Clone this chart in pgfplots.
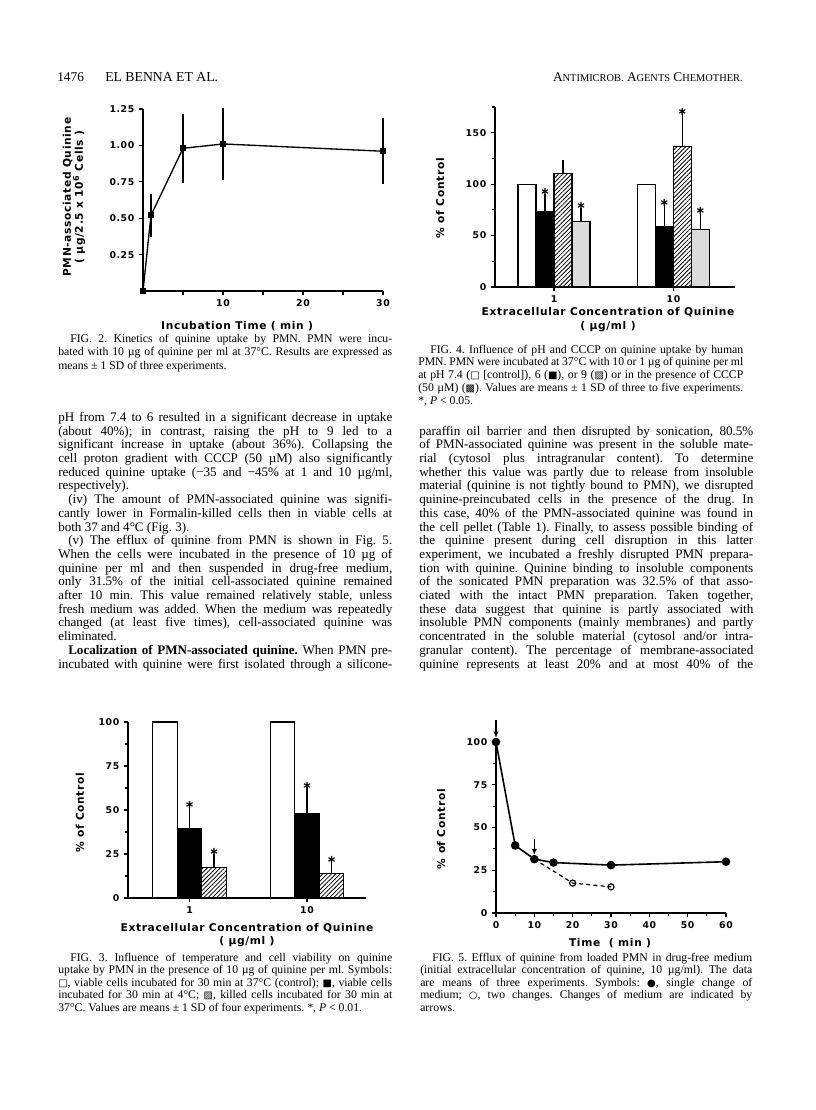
\documentclass[border=0pt]{standalone}
\usepackage{fontspec}
\setmainfont{Liberation Serif}
\newfontfamily\cf{DejaVu Sans}[LetterSpace=6]
\newfontfamily\sym{DejaVu Sans}[Scale=0.85]
\usepackage{pgfplots}
\pgfplotsset{compat=1.18}
\usetikzlibrary{patterns.meta,arrows.meta,plotmarks}
\frenchspacing
\newcommand\tickfont{\cf\bfseries\fontsize{7}{8}\selectfont}
\newcommand\labfont{\cf\bfseries\fontsize{8}{10.5}\selectfont}
\newcommand\bodyfont{\fontsize{9.8}{11}\selectfont\frenchspacing}
\newcommand\capfont{\fontsize{8.8}{10}\selectfont\frenchspacing}
% justified line: x, y (px), width (pt), text
\newcommand\J[4]{\node[anchor=base west,inner sep=0pt] at (#1,#2) {\makebox[#3][s]{#4}};}
\newcommand\LL[3]{\node[anchor=base west,inner sep=0pt] at (#1,#2) {#3};}
\pgfplotsset{
  pagechart/.style={anchor=south west, scale only axis, axis lines*=left,
    axis line style={line width=0.9pt,-}, tick align=outside,
    major tick length=3pt, minor tick length=2pt,
    tick style={line width=0.9pt,black},
    ticklabel style={font=\tickfont},
    /pgf/number format/assume math mode=true,
    xlabel style={font=\labfont, align=center, anchor=center},
    ylabel style={font=\labfont, align=center, anchor=center},
    clip=false},
  bar/.style={ybar, bar width=#1, bar shift=0pt, draw=black, line width=0.9pt},
  upbars/.style={error bars/.cd, y dir=plus, y explicit,
    error bar style={line width=0.9pt,black},
    error mark options={black, mark size=3.5pt, line width=0.9pt}},
  star/.style={only marks, mark=text, text mark={\sym\bfseries\fontsize{10}{10}\selectfont ∗}}
}
\begin{document}
\begin{tikzpicture}
\path[use as bounding box, fill=white] (0,0) rectangle (612pt,-832.5pt);

% ---------------- FIG. 2 ----------------
\begin{axis}[pagechart, at={(107.25pt,-218.25pt)}, width=180pt, height=136.5pt,
  xmin=0, xmax=30, ymin=0, ymax=1.25,
  xtick={5,10,15,20,25,30}, xticklabels={,10,,20,,30},
  ytick={0.25,0.5,0.75,1,1.25}, yticklabels={0.25,0.50,0.75,1.00,1.25},
  xlabel={Incubation Time ( min )},
  ylabel={PMN-associated Quinine\\[-1.5pt]( µg/2.5 x 10\textsuperscript{6} Cells )},
  xlabel style={at={(axis description cs:0.392,-0.192)}},
  ylabel style={at={(axis description cs:-0.2875,0.516)}}]
\addplot[black, line width=1pt, mark=square*, mark size=1.8pt,
  error bars/.cd, y dir=both, y explicit,
  error bar style={line width=0.9pt,black},
  error mark options={black, mark size=3pt, line width=0.9pt}]
  coordinates {(0,0) (1,0.52) +- (0,0.12) (5,0.98) +- (0,0.21)
               (10,1.01) +- (0,0.22) (30,0.96) +- (0,0.20)};
\end{axis}

% ---------------- FIG. 4 ----------------
\begin{axis}[pagechart, at={(371.25pt,-215.25pt)}, width=180pt, height=135pt,
  xmin=0.506, xmax=2.515, ymin=0, ymax=175,
  xtick={1,2}, xticklabels={1,10},
  ytick={0,50,100,150}, yticklabels={0,50,100,150},
  minor ytick={25,75,125,175},
  xlabel={Extracellular Concentration of Quinine\\( µg/ml )},
  ylabel={\% of Control},
  xlabel style={at={(axis description cs:0.471,-0.183)}},
  ylabel style={at={(axis description cs:-0.229,0.494)}}]
\addplot[bar=13.5pt, fill=white] coordinates {(0.7741,100) (1.7741,100)};
\addplot[bar=13.5pt, fill=black, upbars] coordinates {(0.9247,73.7) +- (0,12.3) (1.9247,58.4) +- (0,17.2)};
\addplot[bar=13.5pt, fill=white, postaction={pattern={Lines[angle=45,distance=2.3pt,line width=0.6pt]}}, upbars]
  coordinates {(1.0753,110) +- (0,9) (2.0753,136.4) +- (0,27.6)};
\addplot[bar=13.5pt, fill=black!14, upbars] coordinates {(1.2259,64) +- (0,8.4) (2.2259,55.8) +- (0,12.4)};
\addplot[star] coordinates {(0.9247,92) (1.2259,78.4) (1.9247,81.6) (2.0753,170) (2.2259,74.2)};
\end{axis}

% ---------------- FIG. 3 ----------------
\begin{axis}[pagechart, at={(96pt,-673.5pt)}, width=178.5pt, height=132pt,
  xmin=0.4766, xmax=2.502, ymin=0, ymax=100,
  xtick={1,2}, xticklabels={1,10},
  ytick={0,25,50,75,100}, yticklabels={0,25,50,75,100},
  minor ytick={12.5,37.5,62.5,87.5},
  xlabel={Extracellular Concentration of Quinine\\[-0.8pt]( µg/ml )},
  ylabel={\% of Control},
  xlabel style={at={(axis description cs:0.5,-0.213)}},
  ylabel style={at={(axis description cs:-0.2017,0.483)}}]
\addplot[bar=18.4pt, fill=white] coordinates {(0.7915,100) (1.7915,100)};
\addplot[bar=18.4pt, fill=black, upbars] coordinates {(1,39.2) +- (0,10) (2,48.1) +- (0,12.1)};
\addplot[bar=18.4pt, fill=white, postaction={pattern={Lines[angle=45,distance=2.3pt,line width=0.6pt]}}, upbars]
  coordinates {(1.2085,17.2) +- (0,5.1) (2.2085,14.0) +- (0,4.0)};
\addplot[star] coordinates {(1,52.8) (1.2085,25.9) (2,63.8) (2.2085,21.6)};
\end{axis}

% ---------------- FIG. 5 ----------------
\begin{axis}[pagechart, at={(372pt,-684.75pt)}, width=172.5pt, height=128.25pt,
  xmin=0, xmax=60, ymin=0, ymax=100,
  xtick={0,10,20,30,40,50,60}, xticklabels={0,10,20,30,40,50,60},
  minor xtick={5,15,25,35,45,55},
  ytick={0,25,50,75,100}, yticklabels={0,25,50,75,100},
  minor ytick={12.5,37.5,62.5,87.5},
  xlabel={Time\ \ ( min )},
  ylabel={\% of Control},
  xlabel style={at={(axis description cs:0.496,-0.175)}},
  ylabel style={at={(axis description cs:-0.239,0.491)}}]
\addplot[black, line width=0.9pt, dash pattern=on 3pt off 2.5pt, mark=o, mark size=2.3pt,
  mark options={solid, fill=white, line width=0.9pt}]
  coordinates {(10,31.5) (20,17.5) (30,15.3)};
\addplot[black, line width=1.2pt, mark=*, mark size=2.6pt]
  coordinates {(0,100) (5,39.5) (10,31.5) (15,29.5) (30,28) (60,30)};
\draw[-{Latex[length=4.5pt,width=4pt]}, line width=1.1pt] (axis cs:0,113) -- (axis cs:0,102.5);
\draw[-{Latex[length=4.5pt,width=4pt]}, line width=1.1pt] (axis cs:10,43.5) -- (axis cs:10,34);
\end{axis}

\begin{scope}[x=0.75pt,y=-0.75pt]
% header
\node[anchor=base west,inner sep=0pt] at (57,81) {\fontsize{10}{12}\selectfont 1476};
\node[anchor=base west,inner sep=0pt] at (105,81) {\fontsize{10.3}{12}\selectfont EL\ BENNA\ ET\ AL.};
\node[anchor=base east,inner sep=0pt] at (743,81) {\fontsize{10}{12}\selectfont A{\fontsize{7.8}{9}\selectfont NTIMICROB.} A{\fontsize{7.8}{9}\selectfont GENTS} C{\fontsize{7.8}{9}\selectfont HEMOTHER.}};

% FIG 2 caption
\begin{scope}[every node/.append style={font=\capfont}]
\J{70}{342}{241.5pt}{FIG. 2. Kinetics of quinine uptake by PMN. PMN were incu-}
\J{58}{355.5}{250.5pt}{bated with 10 µg of quinine per ml at 37°C. Results are expressed as}
\LL{58}{369}{means ± 1 SD of three experiments.}
% FIG 4 caption
\J{430}{353}{234.75pt}{FIG. 4. Influence of pH and CCCP on quinine uptake by human}
\J{418}{365.8}{243.75pt}{PMN. PMN were incubated at 37°C with 10 or 1 µg of quinine per ml}
\J{418}{378.6}{243.75pt}{at pH 7.4 ({\sym □} [control]), 6 ({\sym ■}), or 9 ({\sym ▨}) or in the presence of CCCP}
\J{418}{391.4}{243.75pt}{(50 µM) ({\sym ▩}). Values are means ± 1 SD of three to five experiments.}
\LL{418}{404.2}{*, \textit{P} < 0.05.}
% FIG 3 caption
\J{70}{961}{241.5pt}{FIG. 3. Influence of temperature and cell viability on quinine}
\J{58}{973.5}{250.5pt}{uptake by PMN in the presence of 10 µg of quinine per ml. Symbols:}
\J{58}{986}{250.5pt}{{\sym □}, viable cells incubated for 30 min at 37°C (control); {\sym ■}, viable cells}
\J{58}{998.5}{250.5pt}{incubated for 30 min at 4°C; {\sym ▨}, killed cells incubated for 30 min at}
\LL{58}{1011}{37°C. Values are means ± 1 SD of four experiments. *, \textit{P} < 0.01.}
% FIG 5 caption
\J{432}{961}{240pt}{FIG. 5. Efflux of quinine from loaded PMN in drug-free medium}
\J{420}{973.5}{249pt}{(initial extracellular concentration of quinine, 10 µg/ml). The data}
\J{420}{986}{249pt}{are means of three experiments. Symbols: {\sym ●}, single change of}
\J{420}{998.5}{249pt}{medium; {\sym ○}, two changes. Changes of medium are indicated by}
\LL{420}{1011}{arrows.}
\end{scope}

% left column body text
\begin{scope}[every node/.append style={font=\bodyfont}]
\J{58}{421.4}{250.5pt}{pH from 7.4 to 6 resulted in a significant decrease in uptake}
\J{58}{435.1}{250.5pt}{(about 40\%); in contrast, raising the pH to 9 led to a}
\J{58}{448.8}{250.5pt}{significant increase in uptake (about 36\%). Collapsing the}
\J{58}{462.5}{250.5pt}{cell proton gradient with CCCP (50 µM) also significantly}
\J{58}{476.2}{250.5pt}{reduced quinine uptake (−35 and −45\% at 1 and 10 µg/ml,}
\LL{58}{489.9}{respectively).}
\J{68}{503.6}{243pt}{(iv) The amount of PMN-associated quinine was signifi-}
\J{58}{517.3}{250.5pt}{cantly lower in Formalin-killed cells then in viable cells at}
\LL{58}{531}{both 37 and 4°C (Fig. 3).}
\J{68}{544.7}{243pt}{(v) The efflux of quinine from PMN is shown in Fig. 5.}
\J{58}{558.4}{250.5pt}{When the cells were incubated in the presence of 10 µg of}
\J{58}{572.1}{250.5pt}{quinine per ml and then suspended in drug-free medium,}
\J{58}{585.8}{250.5pt}{only 31.5\% of the initial cell-associated quinine remained}
\J{58}{599.5}{250.5pt}{after 10 min. This value remained relatively stable, unless}
\J{58}{613.2}{250.5pt}{fresh medium was added. When the medium was repeatedly}
\J{58}{626.9}{250.5pt}{changed (at least five times), cell-associated quinine was}
\LL{58}{640.6}{eliminated.}
\J{68}{654.3}{243pt}{\textbf{Localization of PMN-associated quinine.} When PMN pre-}
\J{58}{668}{250.5pt}{incubated with quinine were first isolated through a silicone-}
% right column body text
\J{419}{435.1}{250.5pt}{paraffin oil barrier and then disrupted by sonication, 80.5\%}
\J{419}{448.8}{250.5pt}{of PMN-associated quinine was present in the soluble mate-}
\J{419}{462.5}{250.5pt}{rial (cytosol plus intragranular content). To determine}
\J{419}{476.2}{250.5pt}{whether this value was partly due to release from insoluble}
\J{419}{489.9}{250.5pt}{material (quinine is not tightly bound to PMN), we disrupted}
\J{419}{503.6}{250.5pt}{quinine-preincubated cells in the presence of the drug. In}
\J{419}{517.3}{250.5pt}{this case, 40\% of the PMN-associated quinine was found in}
\J{419}{531}{250.5pt}{the cell pellet (Table 1). Finally, to assess possible binding of}
\J{419}{544.7}{250.5pt}{the quinine present during cell disruption in this latter}
\J{419}{558.4}{250.5pt}{experiment, we incubated a freshly disrupted PMN prepara-}
\J{419}{572.1}{250.5pt}{tion with quinine. Quinine binding to insoluble components}
\J{419}{585.8}{250.5pt}{of the sonicated PMN preparation was 32.5\% of that asso-}
\J{419}{599.5}{250.5pt}{ciated with the intact PMN preparation. Taken together,}
\J{419}{613.2}{250.5pt}{these data suggest that quinine is partly associated with}
\J{419}{626.9}{250.5pt}{insoluble PMN components (mainly membranes) and partly}
\J{419}{640.6}{250.5pt}{concentrated in the soluble material (cytosol and/or intra-}
\J{419}{654.3}{250.5pt}{granular content). The percentage of membrane-associated}
\J{419}{668}{250.5pt}{quinine represents at least 20\% and at most 40\% of the}
\end{scope}
\end{scope}
\end{tikzpicture}
\end{document}
